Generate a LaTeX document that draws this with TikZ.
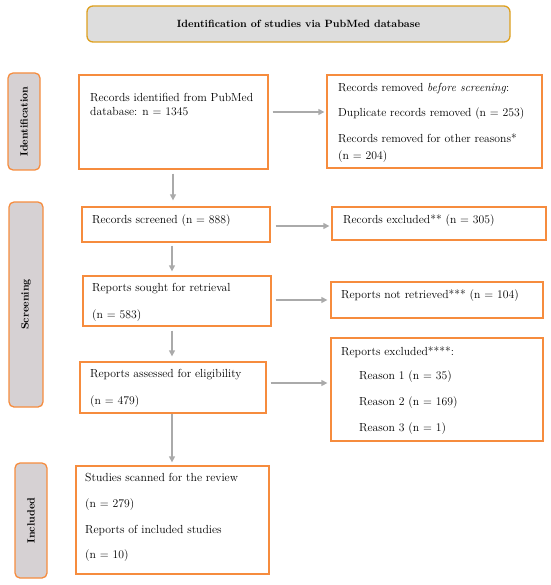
\documentclass[tikz,border=0pt]{standalone}
\usetikzlibrary{arrows.meta}
\definecolor{boxor}{RGB}{246,140,62}
\definecolor{titlegold}{RGB}{222,160,30}
\definecolor{titlefill}{RGB}{221,221,221}
\definecolor{sidefill}{RGB}{214,209,211}
\definecolor{arrgray}{RGB}{170,170,170}
\begin{document}
\begin{tikzpicture}[x=1pt,y=-1pt,
  box/.style={draw=boxor,line width=1.3pt,fill=white,inner sep=0pt},
  side/.style={draw=boxor,line width=1.3pt,fill=sidefill,rounded corners=5pt,inner sep=0pt},
  sidelab/.style={rotate=90,font=\fontsize{10.5}{12}\selectfont\bfseries},
  txt/.style={anchor=mid west,inner sep=0pt,font=\fontsize{11.7}{13}\selectfont},
  arr/.style={draw=arrgray,line width=1.3pt,-{Triangle[width=6pt,length=6pt]}}]
\useasboundingbox (0,0) rectangle (550,585);
% title
\node[draw=titlegold,line width=1.3pt,fill=titlefill,rounded corners=6pt,minimum width=423pt,minimum height=36pt,
  font=\fontsize{10.5}{12}\selectfont\bfseries] (title) at (298.5,24) {Identification of studies via PubMed database};
% side labels
\node[side,minimum width=32pt,minimum height=97pt] (idside) at (24,121.5) {};
\node[sidelab] (idlab) at (idside.center) {Identification};
\node[side,minimum width=34pt,minimum height=205pt] (scside) at (26,304.5) {};
\node[sidelab] (sclab) at (scside.center) {Screening};
\node[side,minimum width=32pt,minimum height=115pt] (inside) at (31,520.5) {};
\node[sidelab] (inlab) at (inside.center) {Included};
% boxes
\node[box,minimum width=189pt,minimum height=94pt] (b1) at (173.5,122) {};
\node[box,minimum width=215pt,minimum height=93pt] (rem) at (434.5,121.5) {};
\node[box,minimum width=188pt,minimum height=35pt] (scr) at (176,224.5) {};
\node[box,minimum width=214pt,minimum height=33pt] (exc) at (439,223.5) {};
\node[box,minimum width=188pt,minimum height=50pt] (sou) at (177,301) {};
\node[box,minimum width=212pt,minimum height=36pt] (nre) at (437,300) {};
\node[box,minimum width=186pt,minimum height=51pt] (ass) at (173,387.5) {};
\node[box,minimum width=212pt,minimum height=103pt] (rex) at (437,389.5) {};
\node[box,minimum width=193pt,minimum height=108pt] (stu) at (172.5,520) {};
% texts
\node[txt] (t1a) at (90,99) {Records identified from PubMed};
\node[txt] (t1b) at (90,113) {database: n = 1345};
\node[txt] (t2a) at (338,89) {Records removed \emph{before screening}:};
\node[txt] (t2b) at (338,114) {Duplicate records removed (n = 253)};
\node[txt] (t2c) at (338,140) {Records removed for other reasons*};
\node[txt] (t2d) at (338,157) {(n = 204)};
\node[txt] (t3) at (92,221) {Records screened (n = 888)};
\node[txt] (t4) at (343,221) {Records excluded** (n = 305)};
\node[txt] (t5a) at (92,289) {Reports sought for retrieval};
\node[txt] (t5b) at (92,316) {(n = 583)};
\node[txt] (t6) at (341,296) {Reports not retrieved*** (n = 104)};
\node[txt] (t7a) at (90,375) {Reports assessed for eligibility};
\node[txt] (t7b) at (90,402) {(n = 479)};
\node[txt] (t8a) at (341,353) {Reports excluded****:};
\node[txt] (t8b) at (359,377) {Reason 1 (n = 35)};
\node[txt] (t8c) at (359,403) {Reason 2 (n = 169)};
\node[txt] (t8d) at (359,429) {Reason 3 (n = 1)};
\node[txt] (t9a) at (85,479) {Studies scanned for the review};
\node[txt] (t9b) at (85,505) {(n = 279)};
\node[txt] (t9c) at (85,531) {Reports of included studies};
\node[txt] (t9d) at (85,556) {(n = 10)};
% vertical arrows
\draw[arr,shorten <=4pt,shorten >=6pt] (b1.south -| 173,0) -- (scr.north -| 173,0);
\draw[arr,shorten <=3pt,shorten >=4pt] (scr.south -| 172,0) -- (sou.north -| 172,0);
\draw[arr,shorten <=4pt,shorten >=5pt] (sou.south -| 172,0) -- (ass.north -| 172,0);
\draw[arr,shorten <=0pt,shorten >=3pt] (ass.south -| 172,0) -- (stu.north -| 172,0);
% horizontal arrows
\draw[arr,shorten <=4pt,shorten >=2pt] (b1.east |- 0,112) -- (rem.west |- 0,112);
\draw[arr,shorten <=5pt,shorten >=2pt] (scr.east |- 0,226) -- (exc.west |- 0,226);
\draw[arr,shorten <=4pt,shorten >=3pt] (sou.east |- 0,300) -- (nre.west |- 0,300);
\draw[arr,shorten <=4pt,shorten >=3pt] (ass.east |- 0,383) -- (rex.west |- 0,383);
\end{tikzpicture}
\end{document}
